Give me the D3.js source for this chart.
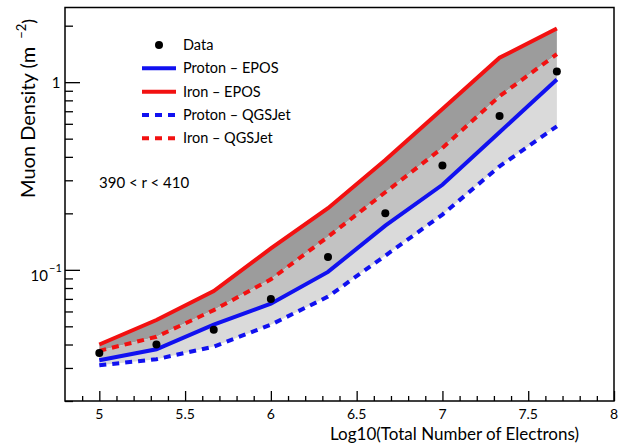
<!DOCTYPE html>
<html><head><meta charset="utf-8">
<script src="https://cdn.jsdelivr.net/npm/d3@7"></script>
<style>html,body{margin:0;padding:0;background:#fff;}svg{display:block;}</style>
</head><body>
<script>
// ---- data ----
const logNe = [5, 5.333, 5.667, 6, 6.333, 6.667, 7, 7.333, 7.667];
const dataDensity = [0.036, 0.040, 0.048, 0.070, 0.117, 0.20, 0.36, 0.66, 1.14];
const ironEPOS = [0.040, 0.054, 0.077, 0.130, 0.213, 0.385, 0.72, 1.35, 1.93];
const ironQGSJet = [0.037, 0.044, 0.061, 0.089, 0.150, 0.259, 0.446, 0.842, 1.41];
const protonEPOS = [0.033, 0.0377, 0.051, 0.066, 0.0975, 0.172, 0.284, 0.541, 1.034];
const protonQGSJet = [0.031, 0.0334, 0.039, 0.051, 0.072, 0.119, 0.197, 0.356, 0.582];
const xMajorTicks = [5, 5.5, 6, 6.5, 7, 7.5, 8];
const xTickLabels = ["5", "5.5", "6", "6.5", "7", "7.5", "8"];
const yMajorTicks = [0.1, 1];
const yMinorTicks = [0.02,0.03,0.04,0.05,0.06,0.07,0.08,0.09,0.2,0.3,0.4,0.5,0.6,0.7,0.8,0.9,2];
const legendLabels = ["Data", "Proton \u2013 EPOS", "Iron \u2013 EPOS", "Proton \u2013 QGSJet", "Iron \u2013 QGSJet"];

const W = 626, H = 443;
const FONT = "Lato, 'Open Sans', sans-serif";
const svg = d3.select("body").append("svg").attr("width", W).attr("height", H)
  .style("font-family", FONT);

const L = 65, R = 614, T = 7.5, B = 401;
const x = d3.scaleLinear().domain([4.8, 8]).range([L, R]);
const y = d3.scaleLog().domain([0.02, 2.5]).range([B, T]);

const pts = (arr) => logNe.map((v, i) => [v, arr[i]]);
const area = (hi, lo) => d3.area().x((d, i) => x(logNe[i])).y0((d, i) => y(lo[i])).y1((d, i) => y(hi[i]))(logNe);
const line = d3.line().x(d => x(d[0])).y(d => y(d[1]));

// bands
svg.append("path").attr("d", area(ironEPOS, ironQGSJet)).attr("fill", "#9c9c9c");
svg.append("path").attr("d", area(ironQGSJet, protonEPOS)).attr("fill", "#c2c2c2");
svg.append("path").attr("d", area(protonEPOS, protonQGSJet)).attr("fill", "#dadada");

const RED = "#f21111", BLUE = "#1111f0";
const series = [
  {arr: protonQGSJet, color: BLUE, dash: "7,6"},
  {arr: ironQGSJet, color: RED, dash: "7,6"},
  {arr: protonEPOS, color: BLUE, dash: null},
  {arr: ironEPOS, color: RED, dash: null}
];
series.forEach(s => {
  svg.append("path").attr("d", line(pts(s.arr))).attr("fill", "none")
    .attr("stroke", s.color).attr("stroke-width", 4)
    .attr("stroke-dasharray", s.dash);
});

// data points
svg.selectAll("circle.d").data(pts(dataDensity)).enter().append("circle")
  .attr("cx", d => x(d[0])).attr("cy", d => y(d[1])).attr("r", 4).attr("fill", "#000");

// frame
svg.append("rect").attr("x", L).attr("y", T).attr("width", R - L).attr("height", B - T)
  .attr("fill", "none").attr("stroke", "#000").attr("stroke-width", 1.5);

// x axis ticks
const xMinor = d3.range(49, 80).map(v => v / 10).filter(v => !xMajorTicks.some(m => Math.abs(m - v) < 1e-9));
const gx = svg.append("g").attr("transform", `translate(0,${B})`);
gx.call(d3.axisBottom(x).tickValues(xMajorTicks).tickSize(-10).tickFormat(""));
const gxm = svg.append("g").attr("transform", `translate(0,${B})`);
gxm.call(d3.axisBottom(x).tickValues(xMinor).tickSize(-5).tickFormat(""));
[gx, gxm].forEach(g => { g.select(".domain").remove(); g.selectAll("line").attr("stroke", "#000").attr("stroke-width", 1.3); });
xMajorTicks.forEach((v, i) => {
  svg.append("text").attr("x", x(v)).attr("y", 419).attr("text-anchor", "middle")
    .attr("font-size", 14).text(xTickLabels[i]);
});

// y axis ticks
const gy = svg.append("g").attr("transform", `translate(${L},0)`);
gy.call(d3.axisLeft(y).tickValues(yMajorTicks).tickSize(-15).tickFormat(""));
const gym = svg.append("g").attr("transform", `translate(${L},0)`);
gym.call(d3.axisLeft(y).tickValues(yMinorTicks).tickSize(-8).tickFormat(""));
[gy, gym].forEach(g => { g.select(".domain").remove(); g.selectAll("line").attr("stroke", "#000").attr("stroke-width", 1.3); });
svg.append("text").attr("x", 56).attr("y", y(1) + 6).attr("text-anchor", "middle").attr("font-size", 15).text("1");
svg.append("text").attr("x", 48).attr("y", y(0.1) + 11).attr("text-anchor", "end").attr("font-size", 15).text("10");
svg.append("text").attr("x", 49).attr("y", y(0.1) + 2).attr("font-size", 11).text("\u22121");

// axis titles
svg.append("text").attr("x", 579).attr("y", 440).attr("text-anchor", "end").attr("font-size", 17)
  .text("Log10(Total Number of Electrons)");
const yt = svg.append("text").attr("transform", "translate(35,198) rotate(-90)").attr("font-size", 20);
yt.append("tspan").text("Muon Density (m");
yt.append("tspan").attr("dx", 8).attr("dy", -9).attr("font-size", 13).text("\u22122");
yt.append("tspan").attr("dy", 9).attr("font-size", 18).text(")");

// annotation
svg.append("text").attr("x", 99).attr("y", 188).attr("font-size", 15).text("390 < r < 410");

// legend
const legY = [45, 68.3, 91.7, 115, 138.3];
const legItems = [
  {type: "dot"},
  {type: "line", color: BLUE, dash: null},
  {type: "line", color: RED, dash: null},
  {type: "line", color: BLUE, dash: "7,6"},
  {type: "line", color: RED, dash: "7,6"}
];
legItems.forEach((it, i) => {
  const yy = legY[i];
  if (it.type === "dot") {
    svg.append("circle").attr("cx", 159).attr("cy", yy).attr("r", 4).attr("fill", "#000");
  } else {
    svg.append("line").attr("x1", 142).attr("x2", 176).attr("y1", yy).attr("y2", yy)
      .attr("stroke", it.color).attr("stroke-width", 4).attr("stroke-dasharray", it.dash);
  }
  svg.append("text").attr("x", 183).attr("y", yy + 5).attr("font-size", 14.5).text(legendLabels[i]);
});
</script>
</body></html>
